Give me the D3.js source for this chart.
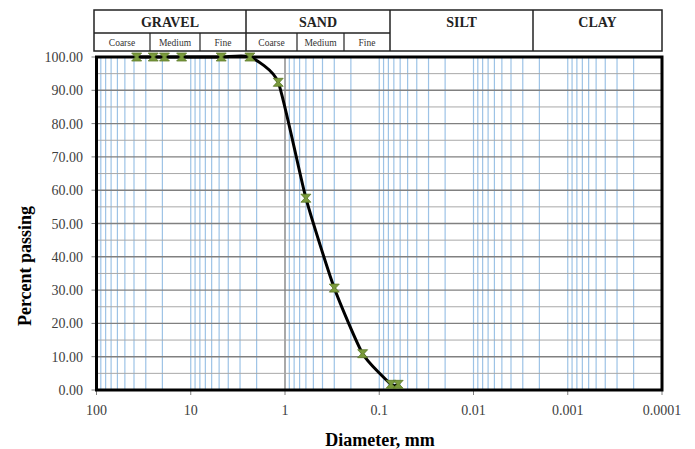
<!DOCTYPE html>
<meta charset="utf-8">
<style>
  body { margin: 0; background: #fff; }
  svg { display: block; }
  text { font-family: "Liberation Serif", "Times New Roman", serif; }
</style>
<script src="https://d3js.org/d3.v7.min.js"></script>
<div id="chart"></div>
<script>

// sieve data
var sieveSizes = [37.5, 25, 19, 12.5, 4.75, 2.36, 1.18, 0.6, 0.3, 0.15, 0.075, 0.063];
var percentPassing = [100, 100, 100, 100, 100, 100, 92.4, 57.6, 30.6, 10.9, 1.7, 1.7];
var xTicks = [100, 10, 1, 0.1, 0.01, 0.001, 0.0001];
var xTickLabels = ["100", "10", "1", "0.1", "0.01", "0.001", "0.0001"];
var yTicks = [0, 10, 20, 30, 40, 50, 60, 70, 80, 90, 100];
var soilClasses = ["GRAVEL", "SAND", "SILT", "CLAY"];
var subClasses = ["Coarse", "Medium", "Fine"];

var W = 695, H = 449;
var plot = {left: 96.5, right: 662, top: 57, bottom: 390};

var svg = d3.select("#chart").append("svg")
  .attr("width", W)
  .attr("height", H);

var x = d3.scaleLog().domain([100, 0.0001]).range([plot.left, plot.right]);
var y = d3.scaleLinear().domain([0, 100]).range([plot.bottom, plot.top]);

// ---- gridlines
var grid = svg.append("g");

// vertical log lines (2..9 in each decade + decade lines)
var vLines = [];
for (var e = -4; e < 2; e++) {
  for (var k = 1; k < 10; k++) {
    var v = k * Math.pow(10, e);
    if (v > 0.0001 * 1.0001 && v < 100 * 0.9999) vLines.push(+v.toPrecision(3));
  }
}
grid.selectAll("line.v").data(vLines).enter().append("line")
  .attr("x1", function(d) { return x(d); })
  .attr("x2", function(d) { return x(d); })
  .attr("y1", plot.top)
  .attr("y2", plot.bottom)
  .attr("stroke", function(d) { return d === 1 ? "#8c8c8c" : "#9dc3e6"; })
  .attr("stroke-width", function(d) { return d === 1 ? 1.5 : 1.2; });

// horizontal lines every 5 %
var hLines = d3.range(5, 100, 5);
grid.selectAll("line.h").data(hLines).enter().append("line")
  .attr("x1", plot.left)
  .attr("x2", plot.right)
  .attr("y1", function(d) { return y(d); })
  .attr("y2", function(d) { return y(d); })
  .attr("stroke", function(d) { return d % 10 === 0 ? "#808080" : "#a8a8a8"; })
  .attr("stroke-width", function(d) { return d % 10 === 0 ? 1.4 : 1; });

// ---- ticks
svg.append("g").selectAll("line").data(xTicks).enter().append("line")
  .attr("x1", function(d) { return x(d); })
  .attr("x2", function(d) { return x(d); })
  .attr("y1", plot.bottom)
  .attr("y2", plot.bottom + 5)
  .attr("stroke", "#7f7f7f");

svg.append("g").selectAll("line").data(yTicks).enter().append("line")
  .attr("x1", plot.left - 5)
  .attr("x2", plot.left)
  .attr("y1", function(d) { return y(d); })
  .attr("y2", function(d) { return y(d); })
  .attr("stroke", "#7f7f7f");

// tick labels
svg.append("g").selectAll("text").data(xTicks).enter().append("text")
  .attr("x", function(d) { return x(d); })
  .attr("y", 415)
  .attr("text-anchor", "middle")
  .style("font-size", "14px")
  .style("fill", "#404040")
  .text(function(d, i) { return xTickLabels[i]; });

svg.append("g").selectAll("text").data(yTicks).enter().append("text")
  .attr("x", 83)
  .attr("y", function(d) { return y(d) + 5; })
  .attr("text-anchor", "end")
  .style("font-size", "14px")
  .style("fill", "#404040")
  .text(function(d) { return d.toFixed(2); });

// axis titles
svg.append("text")
  .attr("x", 380)
  .attr("y", 446)
  .attr("text-anchor", "middle")
  .style("font-size", "18px")
  .style("font-weight", "bold")
  .text("Diameter, mm");

svg.append("text")
  .attr("transform", "translate(31,266) rotate(-90)")
  .attr("text-anchor", "middle")
  .style("font-size", "18px")
  .style("font-weight", "bold")
  .text("Percent passing");

// ---- curve
var pts = sieveSizes.map(function(d, i) { return [x(d), y(percentPassing[i])]; });

svg.append("path")
  .datum(pts)
  .attr("d", d3.line().curve(d3.curveCardinal.tension(0.45)))
  .attr("fill", "none")
  .attr("stroke", "#000")
  .attr("stroke-width", 3);

// ---- frame
svg.append("rect")
  .attr("x", plot.left)
  .attr("y", plot.top)
  .attr("width", plot.right - plot.left)
  .attr("height", plot.bottom - plot.top)
  .attr("fill", "none")
  .attr("stroke", "#000")
  .attr("stroke-width", 3);

// ---- markers
var marker = "M-5,-4L5,-4L1.3,0L5,4L-5,4L-1.3,0Z";
svg.append("g").selectAll("path").data(pts).enter().append("path")
  .attr("transform", function(d) { return "translate(" + d[0] + "," + d[1] + ")"; })
  .attr("d", marker)
  .attr("fill", "#7a9a3c")
  .attr("stroke", "#5d7a2a")
  .attr("stroke-width", 0.8);

// ---- soil classification table
var tbl = {top: 10, mid: 33, bottom: 51};
var mainEdges = [94, 246, 390, 533, 662];
var subEdges = [[94, 150, 200, 246], [246, 297, 344, 390]];
var head = svg.append("g");

head.append("rect")
  .attr("x", mainEdges[0]).attr("y", tbl.top)
  .attr("width", mainEdges[4] - mainEdges[0])
  .attr("height", tbl.bottom - tbl.top)
  .attr("fill", "#fff")
  .attr("stroke", "#222")
  .attr("stroke-width", 1.5);

head.selectAll("line.m").data(mainEdges.slice(1, 4)).enter().append("line")
  .attr("x1", function(d) { return d; }).attr("x2", function(d) { return d; })
  .attr("y1", tbl.top).attr("y2", tbl.bottom)
  .attr("stroke", "#222").attr("stroke-width", 1.5);

head.append("line")
  .attr("x1", mainEdges[0]).attr("x2", mainEdges[2])
  .attr("y1", tbl.mid).attr("y2", tbl.mid)
  .attr("stroke", "#222").attr("stroke-width", 1.5);

head.selectAll("text.c").data(soilClasses).enter().append("text")
  .attr("x", function(d, i) { return (mainEdges[i] + mainEdges[i + 1]) / 2; })
  .attr("y", 27)
  .attr("text-anchor", "middle")
  .style("font-size", "14px")
  .style("font-weight", "bold")
  .style("fill", "#222")
  .text(function(d) { return d; });

subEdges.forEach(function(edges) {
  head.selectAll(null).data(edges.slice(1, 3)).enter().append("line")
    .attr("x1", function(d) { return d; }).attr("x2", function(d) { return d; })
    .attr("y1", tbl.mid).attr("y2", tbl.bottom)
    .attr("stroke", "#222").attr("stroke-width", 1.2);
  head.selectAll(null).data(subClasses).enter().append("text")
    .attr("x", function(d, i) { return (edges[i] + edges[i + 1]) / 2; })
    .attr("y", 46)
    .attr("text-anchor", "middle")
    .style("font-size", "9.5px")
    .style("fill", "#333")
    .text(function(d) { return d; });
});

</script>
